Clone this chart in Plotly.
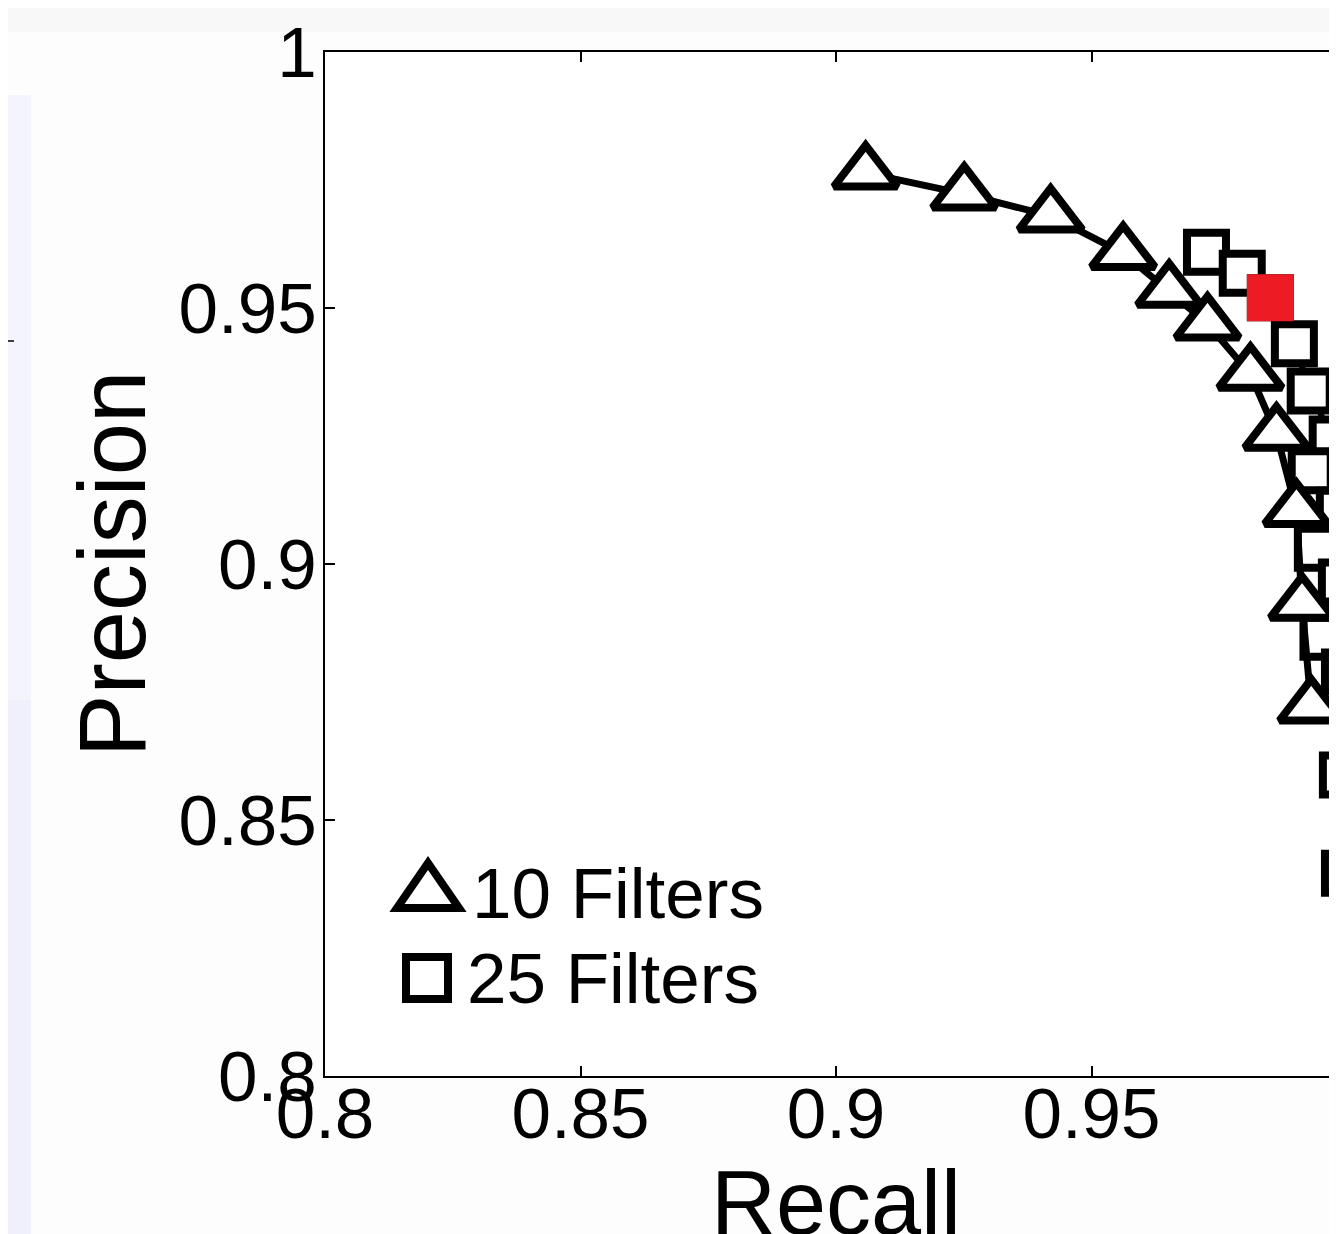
import plotly.graph_objects as go

# ---- data ----
recall_10 = [0.9058, 0.9251, 0.9420, 0.9562, 0.9652, 0.9727, 0.9811, 0.9862, 0.9901, 0.9912, 0.9930]
precision_10 = [0.9764, 0.9723, 0.9680, 0.9607, 0.9533, 0.9469, 0.9371, 0.9254, 0.9105, 0.8922, 0.8721]

recall_25 = [0.9725, 0.9795, 0.9850, 0.9897, 0.9928, 0.9971, 0.9930, 0.9985, 0.9942, 0.9989, 0.9953, 0.9995, 0.9991, 0.9995]
precision_25 = [0.9609, 0.9568, 0.9520, 0.9430, 0.9338, 0.9244, 0.9182, 0.9105, 0.9031, 0.8965, 0.8857, 0.8789, 0.8588, 0.8396]

highlight_recall = [0.9850]
highlight_precision = [0.9520]

x_ticks = [0.8, 0.85, 0.9, 0.95, 1.0]
x_tick_text = ["0.8", "0.85", "0.9", "0.95", "1"]
y_ticks = [0.8, 0.85, 0.9, 0.95, 1.0]
y_tick_text = ["0.8", "0.85", "0.9", "0.95", "1"]

legend_labels = ["10 Filters", "25 Filters"]

FONT = "Liberation Sans, Arial, sans-serif"
OFF = 8  # page body margin: figure origin sits at (8, 8) on screen
SW, SH = 1337, 1234
PLOT_RIGHT_SCREEN = 1347  # x = 1.0 lies just beyond the visible window
EXTRA_H = 40              # figure continues a little below the visible window
R = 30
L, T = 325 - OFF, 52 - OFF
B = SH - 1076 + EXTRA_H
W = PLOT_RIGHT_SCREEN - OFF + R
H = SH - OFF + EXTRA_H
PW, PH = W - L - R, H - T - B


def px(xs):
    """screen x -> paper x"""
    return (xs - OFF - L) / PW


def py(ys):
    """screen y -> paper y"""
    return (H - B - (ys - OFF)) / PH


fig = go.Figure()

fig.add_trace(go.Scatter(
    x=recall_25, y=precision_25, mode="lines+markers", name=legend_labels[1],
    line=dict(color="black", width=6),
    marker=dict(symbol="square", size=39, color="white", line=dict(color="black", width=8)),
    cliponaxis=False, showlegend=False,
))
fig.add_trace(go.Scatter(
    x=recall_10, y=precision_10, mode="lines+markers", name=legend_labels[0],
    line=dict(color="black", width=7),
    marker=dict(symbol="triangle-up", size=55, color="white", line=dict(color="black", width=8)),
    cliponaxis=False, showlegend=False,
))
fig.add_trace(go.Scatter(
    x=highlight_recall, y=highlight_precision, mode="markers",
    marker=dict(symbol="square", size=47, color="#ED1C24", line=dict(width=0)),
    cliponaxis=False, showlegend=False,
))

shapes = [
    # page background pieces
    dict(type="rect", xref="paper", yref="paper", x0=px(0), x1=px(SW + 80), y0=py(32), y1=py(-10),
         fillcolor="#f8f8f8", line=dict(width=0), layer="below"),
    dict(type="rect", xref="paper", yref="paper", x0=px(-10), x1=px(31), y0=py(SH + 60), y1=py(95),
         fillcolor="#f4f4fd", line=dict(width=0), layer="below"),
    dict(type="rect", xref="paper", yref="paper", x0=px(-10), x1=px(31), y0=py(SH + 60), y1=py(700),
         fillcolor="#f0f0fc", line=dict(width=0), layer="below"),
    dict(type="line", xref="paper", yref="paper", x0=px(0), x1=px(14), y0=py(341), y1=py(341),
         line=dict(color="black", width=1.5)),
    # legend symbols
    dict(type="path", xref="paper", yref="paper",
         path=f"M {px(397)},{py(908)} L {px(459)},{py(908)} L {px(428)},{py(863)} Z",
         line=dict(color="black", width=8), fillcolor="white"),
    dict(type="rect", xref="paper", yref="paper", x0=px(406), x1=px(448), y0=py(999), y1=py(957),
         line=dict(color="black", width=8), fillcolor="white"),
]

annotations = [
    dict(xref="paper", yref="paper", x=px(470), y=py(893), text=legend_labels[0], showarrow=False,
         xanchor="left", yanchor="middle", font=dict(family=FONT, size=71, color="black")),
    dict(xref="paper", yref="paper", x=px(465), y=py(978), text=legend_labels[1], showarrow=False,
         xanchor="left", yanchor="middle", font=dict(family=FONT, size=71, color="black")),
]

fig.update_layout(
    width=W, height=H,
    margin=dict(l=L, r=R, t=T, b=B, autoexpand=False),
    paper_bgcolor="#fdfdfd", plot_bgcolor="white",
    font=dict(family=FONT, color="black"),
    shapes=shapes, annotations=annotations,
    showlegend=False,
)
fig.update_xaxes(
    range=[0.8, 1.0], tickvals=x_ticks, ticktext=x_tick_text,
    showgrid=False, zeroline=False,
    showline=True, linecolor="black", linewidth=2, mirror="ticks",
    ticks="inside", ticklen=10, tickwidth=2, tickcolor="black",
    tickfont=dict(family=FONT, size=71, color="black"),
    ticklabelstandoff=-25, automargin=False,
    title=dict(text="Recall", font=dict(family=FONT, size=90, color="black"), standoff=12),
)
fig.update_yaxes(
    range=[0.8, 1.0], tickvals=y_ticks, ticktext=y_tick_text,
    showgrid=False, zeroline=False,
    showline=True, linecolor="black", linewidth=2, mirror="ticks",
    ticks="inside", ticklen=10, tickwidth=2, tickcolor="black",
    tickfont=dict(family=FONT, size=71, color="black"),
    ticklabelstandoff=-8, automargin=False,
    title=dict(text="Precision", font=dict(family=FONT, size=94, color="black"), standoff=2),
)

fig.write_html("out.html")
